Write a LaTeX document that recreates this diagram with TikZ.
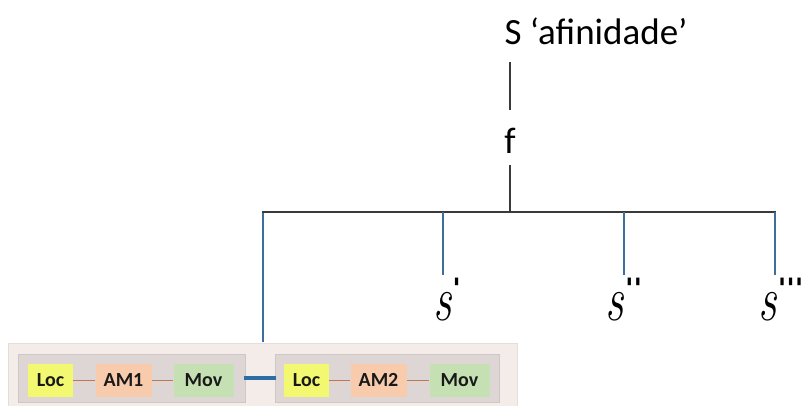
\documentclass[tikz,border=0pt]{standalone}
\usepackage{fontspec}
\setmainfont{Carlito}
\newfontfamily\primefont{DejaVu Sans}
\usepackage{graphicx}
\definecolor{outerbg}{HTML}{F3ECE8}
\definecolor{outerbd}{HTML}{E6DCD8}
\definecolor{innerbg}{HTML}{DDD6D5}
\definecolor{innerbd}{HTML}{CFC7C6}
\definecolor{locc}{HTML}{F3F871}
\definecolor{amc}{HTML}{F8CBAD}
\definecolor{movc}{HTML}{C5E0B3}
\definecolor{linkc}{HTML}{C07850}
\definecolor{bluec}{HTML}{2E6DA4}
\definecolor{thinblue}{HTML}{3E6E9E}
\definecolor{treec}{HTML}{3A3A3A}
\tikzset{
  tree/.style={draw=treec, line width=1.2pt},
  child/.style={draw=thinblue, line width=1.1pt},
  lbl/.style={inner sep=0pt, font=\fontsize{37}{40}\selectfont},
  sl/.style={inner sep=0pt, font=\fontsize{40}{44}\selectfont\rmfamily},
  part/.style={minimum height=33pt, inner sep=0pt, font=\fontsize{20}{22}\selectfont\bfseries, text=black!90},
  link/.style={draw=linkc, line width=0.9pt},
}
\newcommand{\scr}[1]{\scalebox{1.15}[1.6]{\fontspec{Latin Modern Roman}\itshape s}\hspace{1pt}\raisebox{0.55em}{\fontsize{28}{30}\selectfont\primefont\bfseries #1}}
\begin{document}
\begin{tikzpicture}[x=1pt,y=-1pt]
\useasboundingbox (0,0) rectangle (803,405);
% top labels
\node[lbl] (S) at (596,31) {S ‘afinidade’};
\node[lbl] (f) at (510,141) {f};
\coordinate (Sb) at (510,62);
\coordinate (fa) at (510,110);
\coordinate (fb) at (510,165);
\coordinate (fj) at (510,212);
\draw[tree] (Sb) -- (fa);
\draw[tree] (fb) -- (fj);
\coordinate (hl) at (262,212);
\coordinate (hr) at (776,212);
\draw[tree] (hl) -- (hr);
% children
\node[sl, anchor=north] (s1) at (447,278) {\scr{'}};
\node[sl, anchor=north] (s2) at (624,278) {\scr{''}};
\node[sl, anchor=north] (s3) at (781,278) {\scr{'''}};
\coordinate (t1) at (443,212);
\coordinate (t2) at (624,212);
\coordinate (t3) at (775,212);
\coordinate (b1) at (443,275);
\coordinate (b2) at (624,275);
\coordinate (b3) at (775,275);
\draw[child] (t1) -- (b1);
\draw[child] (t2) -- (b2);
\draw[child] (t3) -- (b3);
% big box
\draw[fill=outerbg, draw=outerbd, line width=0.8pt] (8.5,343) rectangle (517.5,408);
\node[inner sep=0pt] (outer) at (263,343) {};
\coordinate (tl) at (263,213);
\draw[child] (tl) -- (outer);
\draw[fill=innerbg, draw=innerbd, line width=0.8pt] (18.5,354) rectangle (245,402);
\draw[fill=innerbg, draw=innerbd, line width=0.8pt] (275,354) rectangle (499.5,402);
\node[part, fill=locc, minimum width=45pt] (loc1) at (50.5,380) {Loc};
\node[part, fill=amc, minimum width=56pt] (am1) at (123.5,380) {AM1};
\node[part, fill=movc, minimum width=60pt] (mov1) at (203.5,380) {Mov};
\node[part, fill=locc, minimum width=45pt] (loc2) at (306.5,380) {Loc};
\node[part, fill=amc, minimum width=56pt] (am2) at (378.5,380) {AM2};
\node[part, fill=movc, minimum width=60pt] (mov2) at (459.5,380) {Mov};
\draw[link] (loc1) -- (am1);
\draw[link] (am1) -- (mov1);
\draw[link] (loc2) -- (am2);
\draw[link] (am2) -- (mov2);
\coordinate (g1) at (244,378);
\coordinate (g2) at (276,378);
\draw[draw=bluec, line width=4pt] (g1) -- (g2);
\end{tikzpicture}
\end{document}
